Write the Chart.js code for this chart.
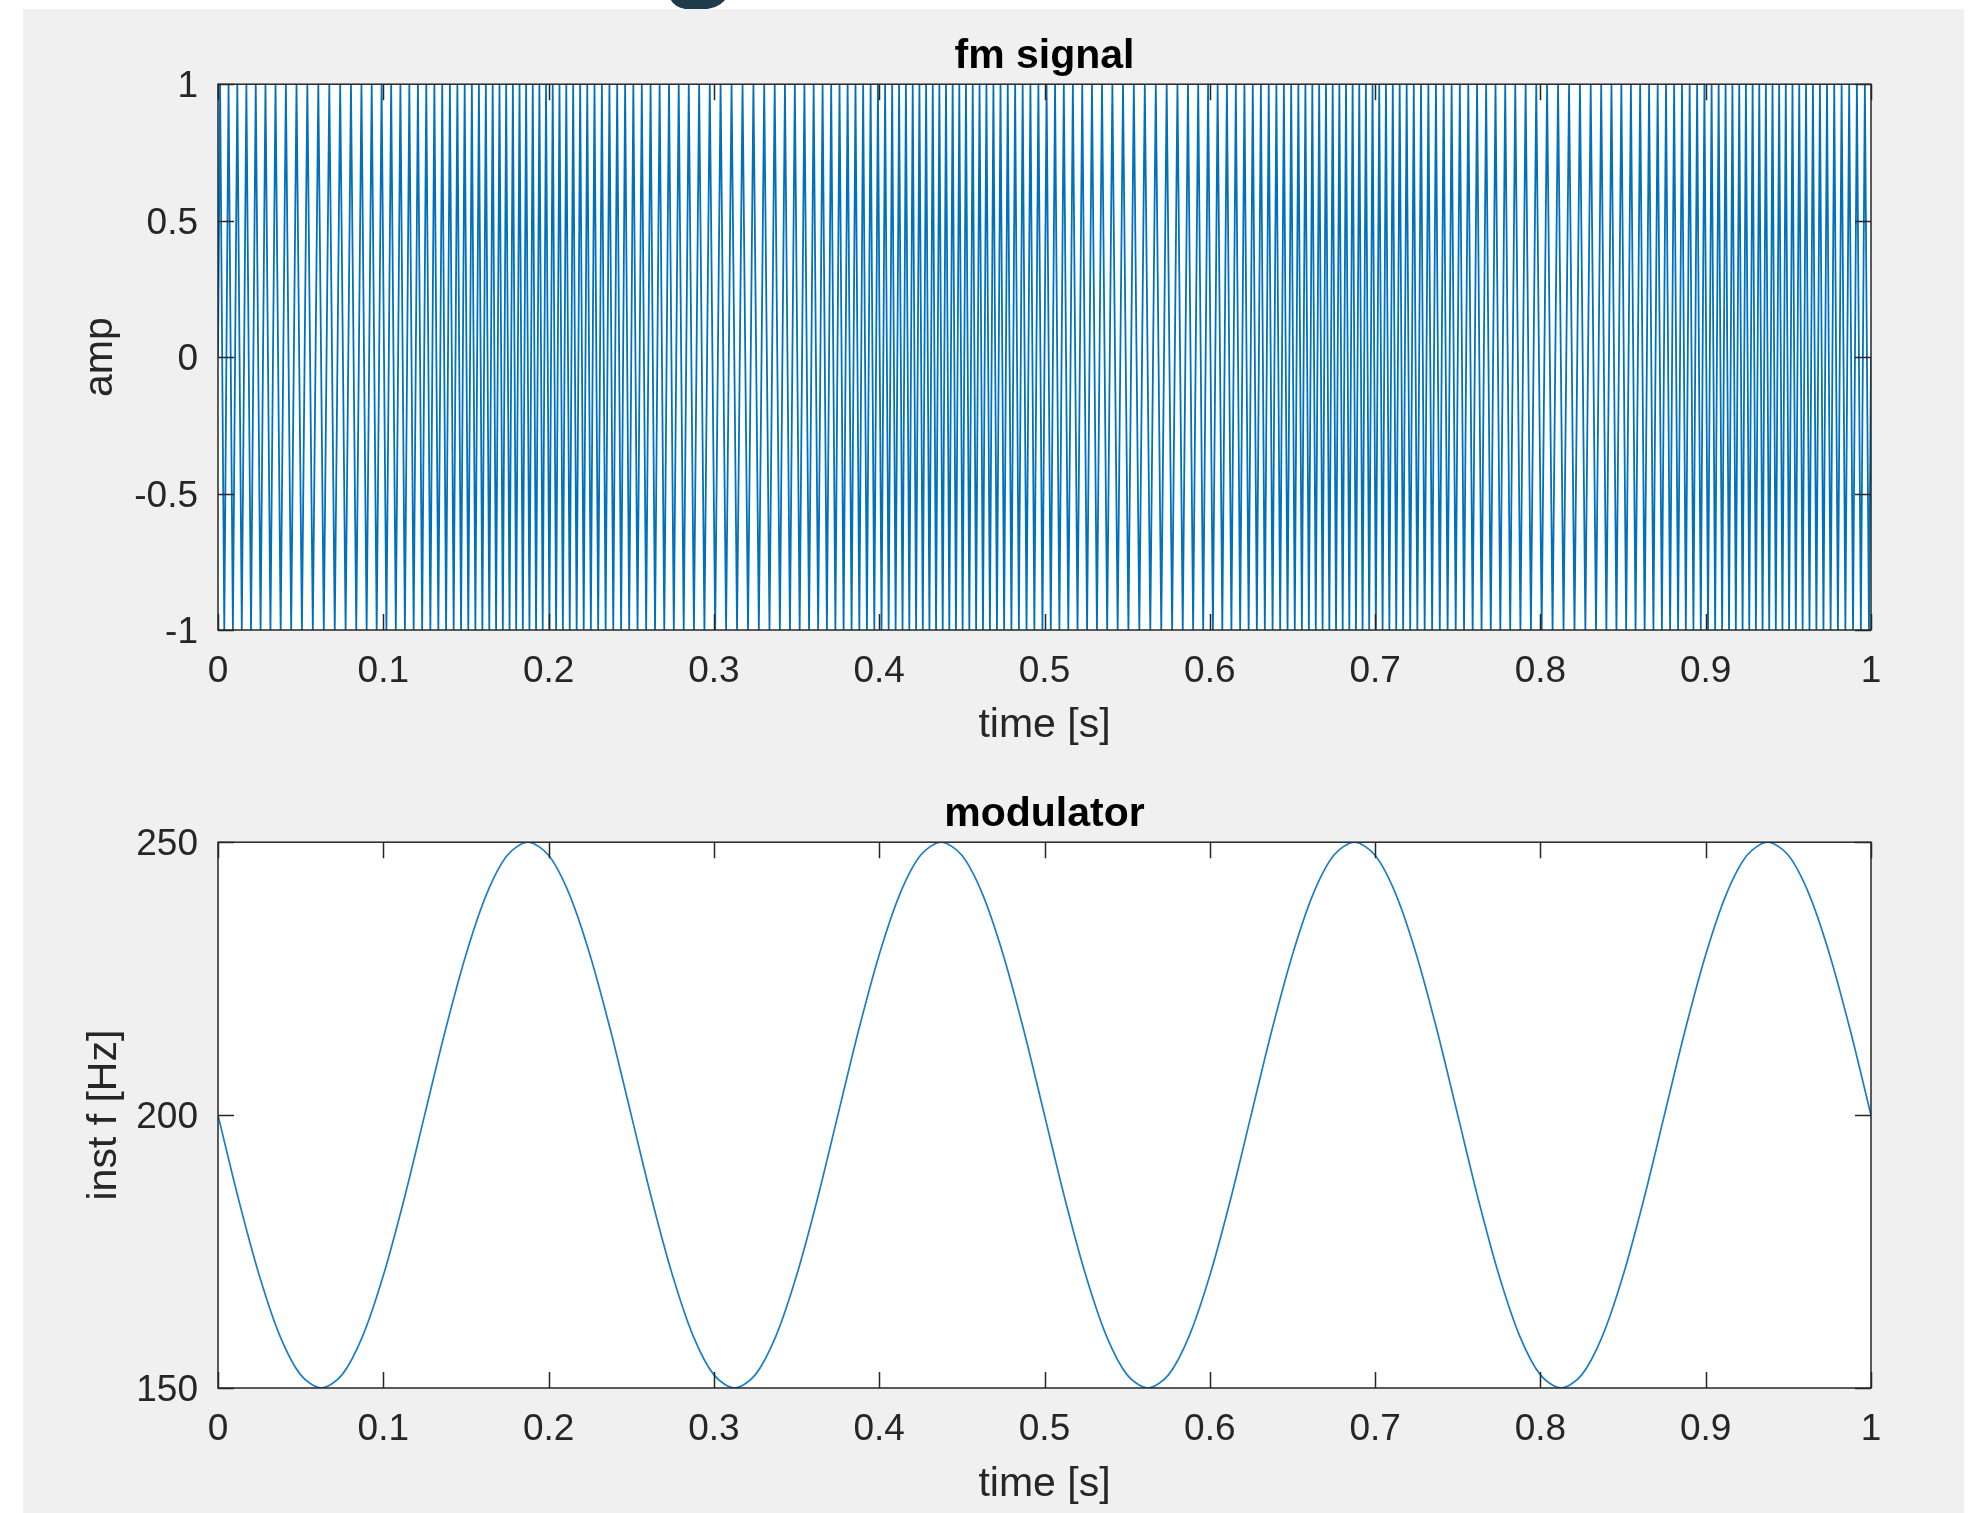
<!DOCTYPE html>
<html>
<head>
<meta charset="utf-8">
<title>fm signal</title>
<script src="https://cdn.jsdelivr.net/npm/chart.js@4.4.1/dist/chart.umd.min.js"></script>
<style>
  body { margin: 0; background: #ffffff; width: 1976px; height: 1513px; position: relative; overflow: hidden; }
  #panel { position: absolute; left: 23px; top: 9px; width: 1941px; height: 1504px; background: #f0f0f0; }
  #heading { position: absolute; left: 646px; top: 0; width: 120px; height: 9px; overflow: hidden; }
  #heading span { position: absolute; left: 23px; top: -114px; font-family: "Open Sans", sans-serif; font-weight: bold; font-size: 110px; line-height: 110px; color: #1f3a4b; }
  canvas { position: absolute; left: 23px; }
  #fmSignal { top: 9px; }
  #modulator { top: 765px; }
</style>
</head>
<body>
<div id="panel"></div>
<div id="heading"><span>g</span></div>
<canvas id="fmSignal" width="1941" height="750"></canvas>
<canvas id="modulator" width="1941" height="748"></canvas>
<script>
// time samples
const timeS = [
  0, 0.0125, 0.025, 0.0375, 0.05, 0.0625, 0.075, 0.0875, 0.1, 0.1125, 0.125, 0.1375, 0.15, 0.1625, 0.175, 0.1875, 0.2, 0.2125, 0.225, 0.2375,
  0.25, 0.2625, 0.275, 0.2875, 0.3, 0.3125, 0.325, 0.3375, 0.35, 0.3625, 0.375, 0.3875, 0.4, 0.4125, 0.425, 0.4375, 0.45, 0.4625, 0.475, 0.4875,
  0.5, 0.5125, 0.525, 0.5375, 0.55, 0.5625, 0.575, 0.5875, 0.6, 0.6125, 0.625, 0.6375, 0.65, 0.6625, 0.675, 0.6875, 0.7, 0.7125, 0.725, 0.7375,
  0.75, 0.7625, 0.775, 0.7875, 0.8, 0.8125, 0.825, 0.8375, 0.85, 0.8625, 0.875, 0.8875, 0.9, 0.9125, 0.925, 0.9375, 0.95, 0.9625, 0.975, 0.9875,
  1
]
// instantaneous frequency (Hz)
const instFreqHz = [
  200, 184.5, 170.6, 159.5, 152.4, 150, 152.4, 159.5, 170.6, 184.5, 200, 215.5, 229.4, 240.5, 247.6, 250, 247.6, 240.5, 229.4, 215.5,
  200, 184.5, 170.6, 159.5, 152.4, 150, 152.4, 159.5, 170.6, 184.5, 200, 215.5, 229.4, 240.5, 247.6, 250, 247.6, 240.5, 229.4, 215.5,
  200, 184.5, 170.6, 159.5, 152.4, 150, 152.4, 159.5, 170.6, 184.5, 200, 215.5, 229.4, 240.5, 247.6, 250, 247.6, 240.5, 229.4, 215.5,
  200, 184.5, 170.6, 159.5, 152.4, 150, 152.4, 159.5, 170.6, 184.5, 200, 215.5, 229.4, 240.5, 247.6, 250, 247.6, 240.5, 229.4, 215.5,
  200
]
// levels the fm signal passes through each cycle (start, peak, middle, trough)
const fmCycleLevels = [0, 1, 0, -1]

// tick labels
const timeTicks = [0, 0.1, 0.2, 0.3, 0.4, 0.5, 0.6, 0.7, 0.8, 0.9, 1]
const ampTicks = [-1, -0.5, 0, 0.5, 1]
const freqTicks = [150, 200, 250]

const BLUE = '#0072BD'
const AXIS = '#262626'
const FONT = '"Liberation Sans", Arial, Helvetica, sans-serif'

// the carrier follows the frequency of the modulator: walk the time axis,
// add up the phase and put a point at every quarter of a cycle
function buildFmPoints() {
  let points = [{ x: 0, y: fmCycleLevels[0] }]
  let phase = 0, quarter = 0, j = 0
  const steps = 60000, dt = 1 / steps
  for (let i = 1; i <= steps; i++) {
    let t = (i - 0.5) * dt
    while (j < timeS.length - 2 && timeS[j + 1] < t) j++
    let k = (t - timeS[j]) / (timeS[j + 1] - timeS[j])
    let f = instFreqHz[j] + k * (instFreqHz[j + 1] - instFreqHz[j])
    phase += f * dt
    while (phase * 4 >= quarter + 1) {
      quarter++
      points.push({ x: i * dt, y: fmCycleLevels[quarter % 4] })
    }
  }
  // last piece up to t = 1
  let frac = phase * 4 - quarter
  let a = fmCycleLevels[quarter % 4], b = fmCycleLevels[(quarter + 1) % 4]
  if (points[points.length - 1].x < 1) points.push({ x: 1, y: a + frac * (b - a) })
  return points
}

// white plot area, box around it and ticks pointing inwards like matlab
const boxPlugin = {
  id: 'matlabBox',
  beforeDraw(chart) {
    const { ctx, chartArea: a } = chart
    ctx.save()
    ctx.fillStyle = '#ffffff'
    ctx.fillRect(a.left, a.top, a.right - a.left, a.bottom - a.top)
    ctx.restore()
  },
  afterDatasetsDraw(chart) {
    const { ctx, chartArea: a, scales } = chart
    const len = 16
    ctx.save()
    ctx.strokeStyle = AXIS
    ctx.lineWidth = 1.5
    ctx.beginPath()
    scales.x.ticks.forEach(function (t) {
      let px = Math.round(scales.x.getPixelForValue(t.value)) + 0.5
      ctx.moveTo(px, a.bottom); ctx.lineTo(px, a.bottom - len)
      ctx.moveTo(px, a.top); ctx.lineTo(px, a.top + len)
    })
    scales.y.ticks.forEach(function (t) {
      let py = Math.round(scales.y.getPixelForValue(t.value)) + 0.5
      ctx.moveTo(a.left, py); ctx.lineTo(a.left + len, py)
      ctx.moveTo(a.right, py); ctx.lineTo(a.right - len, py)
    })
    ctx.stroke()
    ctx.strokeRect(a.left, a.top, a.right - a.left, a.bottom - a.top)
    ctx.restore()
  }
}

function makeChart(id, cfg) {
  return new Chart(document.getElementById(id), {
    type: 'line',
    data: {
      datasets: [{
        data: cfg.points,
        borderColor: cfg.color,
        borderWidth: cfg.lineWidth,
        pointRadius: 0,
        fill: false,
        tension: cfg.tension
      }]
    },
    options: {
      responsive: false,
      animation: false,
      parsing: false,
      normalized: true,
      events: [],
      layout: { padding: { left: 0, top: 0, right: 93, bottom: 0 } },
      plugins: {
        legend: { display: false },
        tooltip: { enabled: false },
        title: {
          display: true,
          text: cfg.title,
          fullSize: false,
          color: '#000000',
          font: { family: FONT, size: 41, weight: 'bold', lineHeight: 1.2 },
          padding: cfg.titlePad
        }
      },
      scales: {
        x: {
          type: 'linear',
          min: 0,
          max: 1,
          grid: { display: false, drawTicks: false },
          border: { display: false },
          afterBuildTicks: function (s) { s.ticks = timeTicks.map(v => ({ value: v })) },
          afterFit: function (s) { s.height = cfg.xHeight },
          ticks: {
            padding: 20, color: AXIS, maxRotation: 0, autoSkip: false,
            font: { family: FONT, size: 37, lineHeight: 1.2 },
            callback: v => String(v)
          },
          title: {
            display: true, text: 'time [s]', color: AXIS,
            font: { family: FONT, size: 41, lineHeight: 1.2 },
            padding: { top: 0, bottom: cfg.xTitlePad }
          }
        },
        y: {
          type: 'linear',
          min: cfg.yTicks[0],
          max: cfg.yTicks[cfg.yTicks.length - 1],
          grid: { display: false, drawTicks: false },
          border: { display: false },
          afterBuildTicks: function (s) { s.ticks = cfg.yTicks.map(v => ({ value: v })) },
          afterFit: function (s) { s.width = 195 },
          ticks: {
            padding: 20, color: AXIS, autoSkip: false, labelOffset: 3,
            font: { family: FONT, size: 37, lineHeight: 1.2 },
            callback: v => String(v)
          },
          title: {
            display: true, text: cfg.yTitle, color: AXIS,
            font: { family: FONT, size: 41, lineHeight: 1.2 },
            padding: { top: cfg.yTitlePad, bottom: 0 }
          }
        }
      }
    },
    plugins: [boxPlugin]
  })
}

document.addEventListener('DOMContentLoaded', function () {
  // upper panel: the fm signal
  makeChart('fmSignal', {
    points: buildFmPoints(),
    color: BLUE,
    lineWidth: 1.8,
    tension: 0,
    title: 'fm signal',
    titlePad: { top: 23, bottom: 3 },
    xHeight: 129,
    xTitlePad: 9,
    yTicks: ampTicks,
    yTitle: 'amp',
    yTitlePad: 53
  })

  // lower panel: the modulator
  makeChart('modulator', {
    points: timeS.map((t, i) => ({ x: t, y: instFreqHz[i] })),
    color: '#1a7fc8',
    lineWidth: 1.7,
    tension: 0.3,
    title: 'modulator',
    titlePad: { top: 25, bottom: 3 },
    xHeight: 125,
    xTitlePad: 4,
    yTicks: freqTicks,
    yTitle: 'inst f [Hz]',
    yTitlePad: 57
  })
})
</script>
</body>
</html>
